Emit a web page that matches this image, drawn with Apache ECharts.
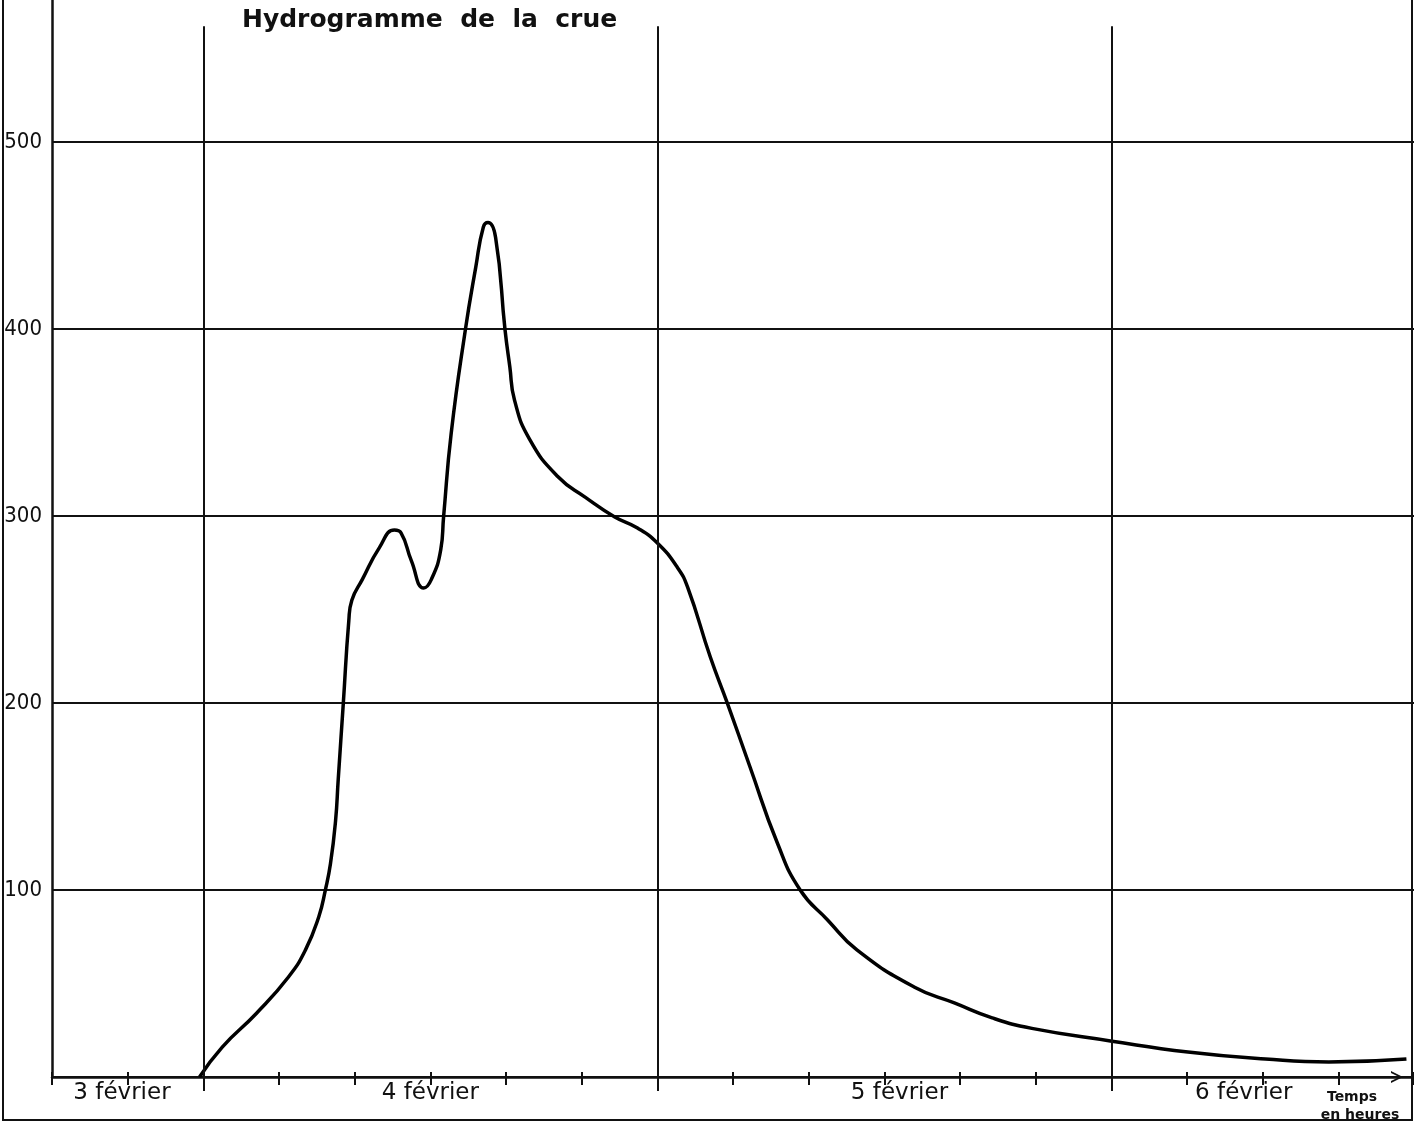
<!DOCTYPE html>
<html><head><meta charset="utf-8">
<script src="https://cdn.jsdelivr.net/npm/echarts@6/dist/echarts.min.js"></script>
<style>html,body{margin:0;padding:0;background:#fff}#c{width:1414px;height:1123px}</style>
</head><body><div id="c"></div>
<script>
// Time in hours from midnight, 4 février
const hours = [-0.2, 1.0, 2.8, 4.5, 5.4, 6.1, 6.45, 6.72, 6.99, 7.13, 7.4, 7.69, 7.85, 8.4, 9.3, 10.1, 10.45, 11.0, 11.65, 12.05, 12.55, 12.7, 13.1, 13.85, 14.4, 14.8, 15.05, 15.45, 15.95, 16.2, 16.45, 17.25, 18.75, 20.2, 21.75, 22.95, 24.0, 25.05, 25.6, 26.8, 27.7, 28.9, 30.35, 31.55, 33.0, 34.55, 37.6, 39.7, 41.7, 43.8, 47.95, 52.05, 56.15, 59.5, 63.6];
// Discharge (m3/s)
const discharge = [0, 16, 34, 53.5, 68, 85.6, 100, 114, 137, 159, 200, 244, 255, 266, 283, 292.5, 291, 276, 261.5, 266, 282, 299.5, 344, 399.5, 433, 454.5, 457, 449, 399.5, 380, 362, 341, 321, 310, 299.5, 293.6, 285.6, 272.7, 262, 224.6, 200, 165.8, 125, 100, 84, 68, 48, 39.6, 31.6, 26, 19.3, 13.4, 9.6, 8, 9.6];
const yTicks = [100, 200, 300, 400, 500];
const yMax = 576;
const dayLabelHours = [-4.3, 12, 36.8, 55];
const dayLabels = ['3 février', '4 février', '5 février', '6 février'];
const dayBoundaries = [0, 24, 48];
const dayLineTop = 562;
const titleText = 'Hydrogramme  de  la  crue';
const axisNameLines = ['Temps', 'en heures'];

const INK = '#111';
const chart = echarts.init(document.getElementById('c'), null, {renderer: 'canvas'});
const data = hours.map((h, i) => [h, discharge[i]]);
const xBase = {type: 'value', min: -8, max: 64, interval: 4, position: 'bottom', gridIndex: 0, splitLine: {show: false}};
const option = {
  animation: false,
  backgroundColor: '#fff',
  title: {text: titleText, left: 237, top: 3,
    textStyle: {fontFamily: 'DejaVu Sans', fontWeight: 'bold', fontSize: 25, color: INK}},
  grid: {left: 52, right: -4, top: 0, bottom: 46, containLabel: false},
  xAxis: [
    Object.assign({}, xBase, {
      axisLine: {show: true, onZero: false, lineStyle: {color: INK, width: 2.5},
        symbol: ['none', 'path://M0,10 L5,0 L10,10 L8.4,10 L5,3.2 L1.6,10 Z'],
        symbolSize: [14, 12], symbolOffset: [0, -17]},
      axisTick: {show: true, inside: false, length: 8, lineStyle: {color: INK, width: 2}},
      axisLabel: {show: true, customValues: dayLabelHours,
        formatter: v => { const i = dayLabelHours.findIndex(d => Math.abs(d - v) < 1e-6); return i >= 0 ? dayLabels[i] : ''; },
        margin: 5, fontFamily: 'DejaVu Sans', fontSize: 23, color: INK}
    }),
    Object.assign({}, xBase, {
      axisLine: {show: false, onZero: false},
      axisTick: {show: true, inside: true, length: 5, lineStyle: {color: INK, width: 2}},
      axisLabel: {show: false}
    }),
    Object.assign({}, xBase, {
      axisLine: {show: false, onZero: false},
      axisTick: {show: true, inside: false, length: 14, customValues: dayBoundaries, lineStyle: {color: INK, width: 2}},
      axisLabel: {show: false}
    })
  ],
  yAxis: {
    type: 'value', min: 0, max: yMax, interval: 100,
    axisLine: {show: true, onZero: false, lineStyle: {color: INK, width: 2.5}},
    axisTick: {show: false},
    axisLabel: {customValues: yTicks, margin: 10,
      fontFamily: "'DejaVu Sans Condensed', sans-serif", fontSize: 22, color: INK},
    splitLine: {show: true, showMaxLine: false, lineStyle: {color: INK, width: 2}}
  },
  series: [{
    type: 'line', xAxisIndex: 0, yAxisIndex: 0, data: data, smooth: 0.5,
    symbol: 'none', lineStyle: {color: '#000', width: 3.5},
    markLine: {silent: true, symbol: ['none', 'none'], label: {show: false},
      lineStyle: {color: INK, width: 2, type: 'solid'},
      data: dayBoundaries.map(d => [{coord: [d, 0]}, {coord: [d, dayLineTop]}])}
  }],
  graphic: [
    {type: 'rect', shape: {x: 3, y: -5, width: 1409, height: 1125}, style: {fill: 'none', stroke: INK, lineWidth: 2}, silent: true},
    {type: 'text', x: 1352, y: 1097, style: {text: axisNameLines[0], fontFamily: 'DejaVu Sans', fontWeight: 'bold', fontSize: 14, fill: INK, align: 'center', verticalAlign: 'middle'}},
    {type: 'text', x: 1360, y: 1115, style: {text: axisNameLines[1], fontFamily: 'DejaVu Sans', fontWeight: 'bold', fontSize: 14, fill: INK, align: 'center', verticalAlign: 'middle'}}
  ]
};
chart.setOption(option);
</script></body></html>
